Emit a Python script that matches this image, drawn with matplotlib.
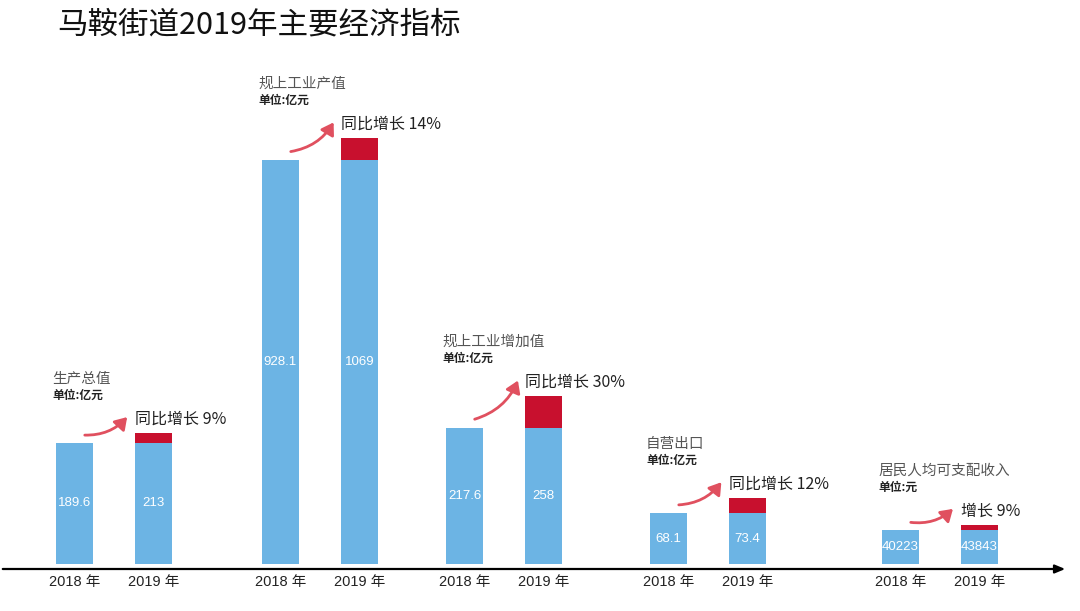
import matplotlib
matplotlib.use("Agg")
import matplotlib.pyplot as plt
from matplotlib.patches import FancyArrowPatch

plt.rcParams['font.family'] = ['Liberation Sans', 'Noto Sans CJK SC', 'DejaVu Sans']

# --- data ---
categories = ['生产总值', '规上工业产值', '规上工业增加值', '自营出口', '居民人均可支配收入']
units = ['单位:亿元', '单位:亿元', '单位:亿元', '单位:亿元', '单位:元']
values_2018 = ['189.6', '928.1', '217.6', '68.1', '40223']
values_2019 = ['213', '1069', '258', '73.4', '43843']
growth_labels = ['同比增长 9%', '同比增长 14%', '同比增长 30%', '同比增长 12%', '增长 9%']
years = ['2018 年', '2019 年']
# bars are schematic: heights as drawn (not to a common scale)
base_height = [121, 404, 136, 51, 34]
growth_height = [10, 22, 32, 15, 5]

# --- layout ---
group_x = [114, 320, 504, 708, 940]   # centre of each pair
pair_gap = 79
bar_w = 37
BLUE = '#6cb4e4'
RED = '#c8102e'

fig = plt.figure(figsize=(10.8, 6.11), dpi=100)
ax = fig.add_axes([0, 0, 1, 1])
ax.set_xlim(0, 1080)
ax.set_ylim(-(611 - 564), 564)   # y=0 is the bar baseline
ax.axis('off')

for i, cx in enumerate(group_x):
    x18 = cx - pair_gap / 2
    x19 = cx + pair_gap / 2
    h = base_height[i]
    g = growth_height[i]
    ax.bar([x18, x19], [h, h], width=bar_w, color=BLUE, linewidth=0)
    ax.bar(x19, g, bottom=h, width=bar_w, color=RED, linewidth=0)

    ax.text(x18, h / 2, values_2018[i], color='white', fontsize=9.5,
            ha='center', va='center')
    ax.text(x19, h / 2, values_2019[i], color='white', fontsize=9.5,
            ha='center', va='center')

    for xx, yl in zip([x18, x19], years):
        ax.text(xx, -18, yl, fontsize=10.5, color='#222', ha='center', va='center')

    # growth label and curved arrow
    ty = h + g + 14
    ax.text(x19 - bar_w / 2, ty, growth_labels[i], fontsize=11.5, color='#222',
            ha='left', va='center', family=['Noto Sans CJK SC', 'DejaVu Sans'])
    arr = FancyArrowPatch((x18 + bar_w / 2 - 11, h + 8),
                          (x19 - bar_w / 2 - 6, ty + 4),
                          connectionstyle='arc3,rad=0.25',
                          arrowstyle='-|>,head_length=7,head_width=4.5',
                          color='#e0505f', linewidth=2.0)
    ax.add_patch(arr)

    # category title and unit
    cy = ty + 40
    ax.text(x18 - bar_w / 2 - 4, cy, categories[i], fontsize=10.5, color='#555',
            ha='left', va='center', family=['Noto Sans CJK SC'], fontweight='light')
    ax.text(x18 - bar_w / 2 - 4, cy - 16, units[i], fontsize=8.5, color='#222',
            ha='left', va='center', family=['Noto Sans CJK SC'], fontweight='bold')

# x axis with arrow
ax.annotate('', xy=(1068, -5), xytext=(0, -5),
            arrowprops=dict(arrowstyle='-|>,head_length=0.6,head_width=0.25',
                            color='black', linewidth=1.6))

fig.text(57 / 1080, 1 - 25 / 611, '马鞍街道2019年主要经济指标', fontsize=22,
         family=['Noto Sans CJK SC'], fontweight='medium', color='#111',
         ha='left', va='center')

fig.savefig('out.png', dpi=100)
